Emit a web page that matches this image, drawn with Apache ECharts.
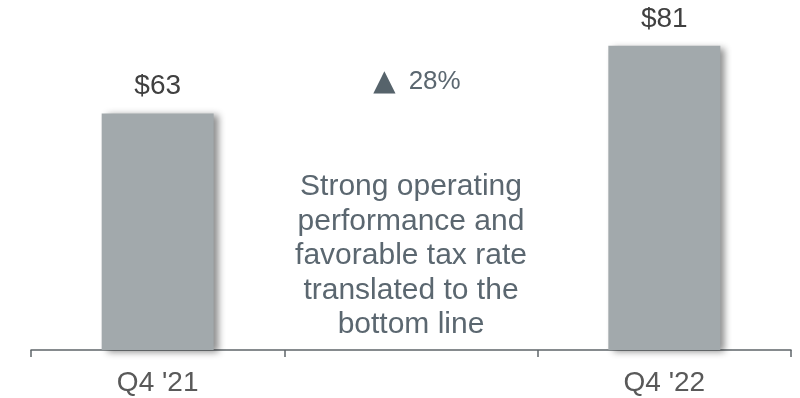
<!DOCTYPE html>
<html>
<head>
<meta charset="utf-8">
<style>
  html, body { margin: 0; padding: 0; background: #ffffff; }
  #chart { width: 800px; height: 398px; }
</style>
<script src="https://cdn.jsdelivr.net/npm/echarts@6/dist/echarts.min.js"></script>
</head>
<body>
<div id="chart"></div>
<script>
// Quarterly net income, in $ millions
const categories = ["Q4 '21", "", "Q4 '22"];
const netIncome = [63, null, 81];
const changeText = '28%';
const noteLines = [
  'Strong operating',
  'performance and',
  'favorable tax rate',
  'translated to the',
  'bottom line'
];

const FONT = '"Liberation Sans", Arial, sans-serif';
const chart = echarts.init(document.getElementById('chart'), null, { renderer: 'canvas' });

chart.setOption({
  animation: false,
  backgroundColor: '#ffffff',
  grid: { left: 31, right: 9, top: 12, bottom: 48 },
  xAxis: {
    type: 'category',
    data: categories,
    boundaryGap: true,
    axisLine: { show: true, lineStyle: { color: '#5f6569', width: 1.5 } },
    axisTick: { show: true, length: 7, alignWithLabel: false, lineStyle: { color: '#5f6569', width: 1.5 } },
    axisLabel: { color: '#595959', fontSize: 28, fontFamily: FONT, margin: 19 }
  },
  yAxis: {
    type: 'value',
    min: 0,
    max: 90,
    show: false,
    splitLine: { show: false }
  },
  series: [{
    type: 'bar',
    data: netIncome,
    barWidth: 112,
    itemStyle: {
      color: '#a2a9ac',
      shadowColor: 'rgba(0,0,0,0.45)',
      shadowBlur: 7,
      shadowOffsetX: 5,
      shadowOffsetY: 2
    },
    label: {
      show: true,
      position: 'top',
      distance: 13,
      color: '#404040',
      fontSize: 28,
      fontFamily: FONT,
      formatter: p => '$' + p.value
    }
  }]
});

// Annotation in the middle slot: change figure and commentary
const midX = chart.convertToPixel({ xAxisIndex: 0 }, 1);
chart.setOption({
  graphic: [
    {
      type: 'text',
      x: midX + 6,
      y: 82,
      style: {
        text: '{tri|▲}{gap|}' + changeText,
        rich: {
          tri: { fontSize: 29, fontFamily: '"DejaVu Sans", sans-serif', fill: '#56636b' },
          gap: { width: 13 }
        },
        fontSize: 26,
        fontFamily: FONT,
        fill: '#5b6770',
        align: 'center',
        verticalAlign: 'middle'
      }
    },
    {
      type: 'text',
      x: midX,
      y: 256,
      style: {
        text: noteLines.join('\n'),
        fontSize: 30,
        lineHeight: 34.5,
        fontFamily: FONT,
        fill: '#5b6770',
        align: 'center',
        verticalAlign: 'middle'
      }
    }
  ]
});
</script>
</body>
</html>
